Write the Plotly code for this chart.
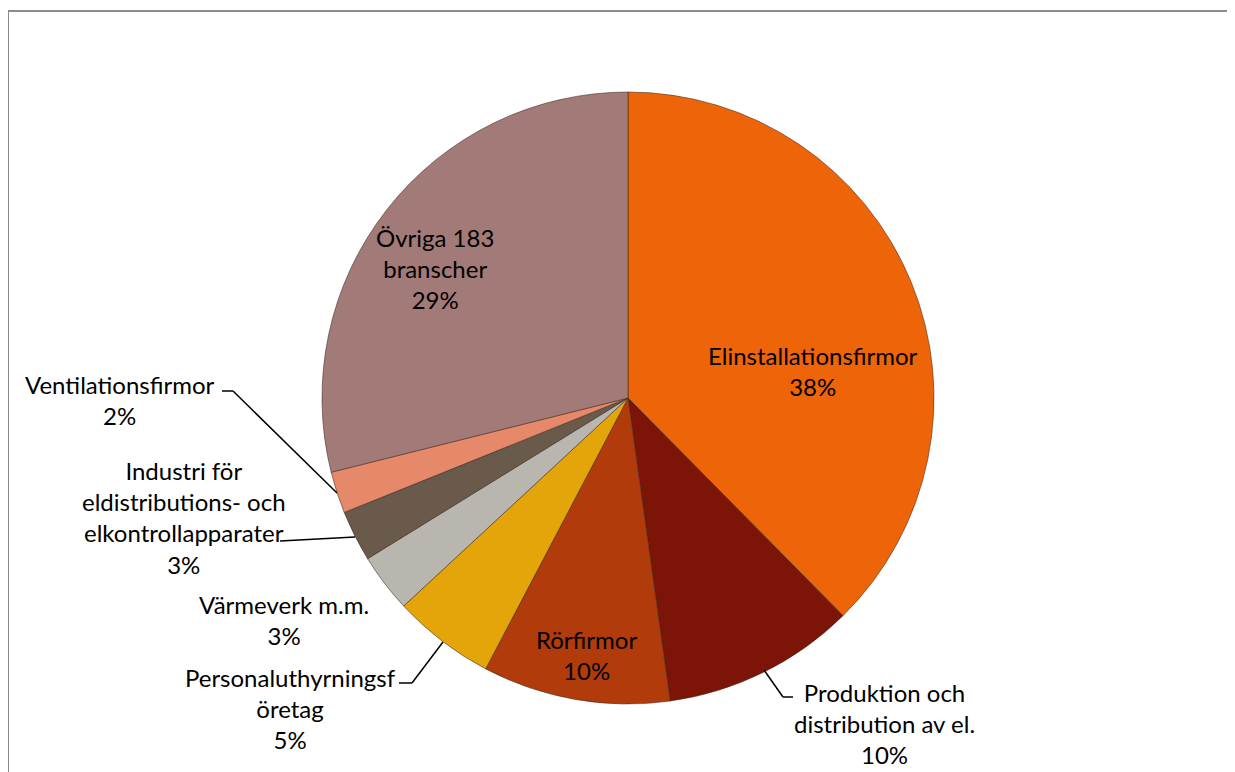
import plotly.graph_objects as go

W, H = 1235, 772
OFF = 8  # page body margin

categories = [
    "Elinstallationsfirmor",
    "Produktion och distribution av el.",
    "Rörfirmor",
    "Personaluthyrningsföretag",
    "Värmeverk m.m.",
    "Industri för eldistributions- och elkontrollapparater",
    "Ventilationsfirmor",
    "Övriga 183 branscher",
]
label_lines = [
    "Elinstallationsfirmor",
    "Produktion och<br>distribution av el.",
    "Rörfirmor",
    "Personaluthyrningsf<br>öretag",
    "Värmeverk m.m.",
    "Industri för<br>eldistributions- och<br>elkontrollapparater",
    "Ventilationsfirmor",
    "Övriga 183<br>branscher",
]
values = [37.6, 10.2, 9.9, 5.4, 3.1, 2.7, 2.2, 28.9]
colors = ["#EE6408", "#7C1407", "#B23B0C", "#E3A50A", "#B9B6AF", "#6A5A4C", "#E6896A", "#A27A77"]

# label centre positions in reference pixels (x, y from top)
label_pos = [(813, 371), (884, 723), (586, 655), (290, 708), (284, 620), (184, 517), (120, 400), (435, 268)]
# leader lines in reference pixels
leaders = {
    1: [(793, 697), (783, 697), (764, 670)],
    3: [(399, 683), (412, 683), (443, 642)],
    5: [(280, 541), (355, 537)],
    6: [(222, 391), (233, 391), (337, 493)],
}

cx, cy, r = 628 - OFF, 398 - OFF, 306


def px(x):
    return (x - OFF) / W


def py(y):
    return 1 - (y - OFF) / H


fig = go.Figure(go.Pie(
    labels=categories,
    values=values,
    sort=False,
    direction="clockwise",
    rotation=0,
    textinfo="none",
    hoverinfo="label+percent",
    marker=dict(colors=colors, line=dict(color="rgba(60,40,30,0.55)", width=1)),
    domain=dict(x=[(cx - r) / W, (cx + r) / W], y=[(H - cy - r) / H, (H - cy + r) / H]),
    showlegend=False,
))

total = sum(values)
annotations = []
for i, (lab, v) in enumerate(zip(label_lines, values)):
    pct = round(v / total * 100)
    x, y = label_pos[i]
    annotations.append(dict(
        x=px(x), y=py(y), xref="paper", yref="paper",
        text=f"{lab}<br>{pct}%", showarrow=False,
        font=dict(family="Lato, Carlito, Calibri, sans-serif", size=24, color="#000000"),
        align="center", xanchor="center", yanchor="middle",
    ))

shapes = []
for pts in leaders.values():
    for (x0, y0), (x1, y1) in zip(pts[:-1], pts[1:]):
        shapes.append(dict(type="line", xref="paper", yref="paper",
                           x0=px(x0), y0=py(y0), x1=px(x1), y1=py(y1),
                           line=dict(color="black", width=1.5)))
shapes.append(dict(type="rect", xref="paper", yref="paper",
                   x0=px(8), y0=py(11), x1=1.05, y1=-0.05,
                   line=dict(color="#8C8C8C", width=2)))

fig.update_layout(
    width=W, height=H,
    margin=dict(l=0, r=0, t=0, b=0),
    paper_bgcolor="white",
    plot_bgcolor="white",
    annotations=annotations,
    shapes=shapes,
)
fig.write_html("out.html")
